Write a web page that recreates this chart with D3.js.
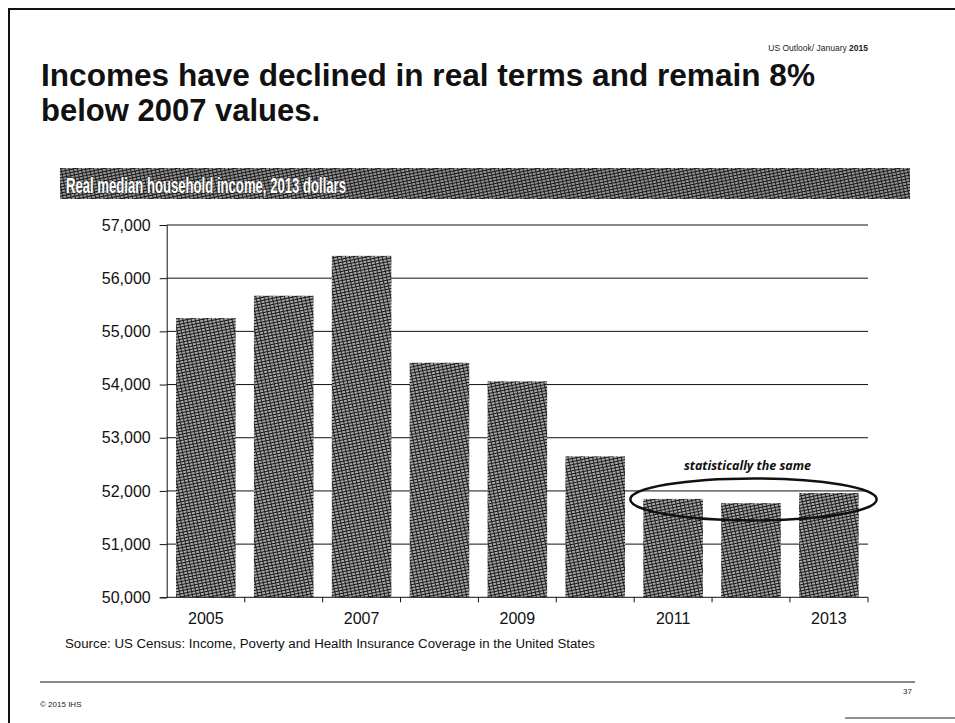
<!DOCTYPE html>
<html>
<head>
<meta charset="utf-8">
<script src="https://cdn.jsdelivr.net/npm/d3@7"></script>
<style>
  html, body { margin: 0; padding: 0; background: #fff; }
  svg { display: block; font-family: "Liberation Sans", Arial, sans-serif; }
</style>
</head>
<body>
<svg id="chart" width="955" height="723"></svg>
<script>
// Real median household income, 2013 dollars
const years = [2005, 2006, 2007, 2008, 2009, 2010, 2011, 2012, 2013];
const income = [55250, 55670, 56420, 54410, 54060, 52650, 51850, 51770, 51960];
const yTicks = [50000, 51000, 52000, 53000, 54000, 55000, 56000, 57000];
const labelledYears = [2005, 2007, 2009, 2011, 2013];
const sameYears = [2011, 2012, 2013];

const svg = d3.select("#chart");

// hatched fill used for bars and the chart banner
const defs = svg.append("defs");
function hatch(id, bg) {
  const p = defs.append("pattern")
    .attr("id", id)
    .attr("patternUnits", "userSpaceOnUse")
    .attr("width", 4).attr("height", 3)
    .attr("patternTransform", "rotate(-12)");
  p.append("rect").attr("width", 4).attr("height", 3).attr("fill", bg);
  p.append("rect").attr("width", 4).attr("height", 1).attr("fill", "#111");
  p.append("rect").attr("width", 1).attr("height", 3).attr("fill", "#222");
}
hatch("hatch", "#a8a8a8");
hatch("hatchDark", "#959595");

// page frame
svg.append("line").attr("x1", 8).attr("x2", 955).attr("y1", 9).attr("y2", 9)
  .attr("stroke", "#111").attr("stroke-width", 2);
svg.append("line").attr("x1", 9).attr("x2", 9).attr("y1", 8).attr("y2", 723)
  .attr("stroke", "#111").attr("stroke-width", 2);
svg.append("line").attr("x1", 845).attr("x2", 955).attr("y1", 718).attr("y2", 718)
  .attr("stroke", "#222").attr("stroke-width", 1);

// header
const hdr = svg.append("text").attr("x", 868).attr("y", 51)
  .attr("text-anchor", "end").attr("font-size", 8.5).attr("fill", "#222");
hdr.append("tspan").text("US Outlook/ January ");
hdr.append("tspan").attr("font-weight", "bold").text("2015");

svg.append("text").attr("x", 41).attr("y", 86)
  .attr("font-size", 31).attr("font-weight", "bold").attr("fill", "#111")
  .attr("textLength", 774).attr("lengthAdjust", "spacingAndGlyphs")
  .text("Incomes have declined in real terms and remain 8%");
svg.append("text").attr("x", 41).attr("y", 121)
  .attr("font-size", 31).attr("font-weight", "bold").attr("fill", "#111")
  .text("below 2007 values.");

// chart banner
svg.append("rect").attr("x", 60).attr("y", 168).attr("width", 850).attr("height", 31)
  .attr("fill", "url(#hatchDark)");
svg.append("text").attr("x", 66).attr("y", 193)
  .attr("font-family", "Liberation Sans Narrow, Arial Narrow, Liberation Sans, sans-serif")
  .attr("font-size", 22).attr("font-weight", "bold").attr("fill", "#fff")
  .attr("stroke", "#222").attr("stroke-width", 0.9).attr("paint-order", "stroke")
  .attr("textLength", 280).attr("lengthAdjust", "spacingAndGlyphs")
  .text("Real median household income, 2013 dollars");

// scales
const x = d3.scaleBand().domain(years).range([166.7, 868])
  .paddingInner(0.235).paddingOuter(0.12);
const y = d3.scaleLinear().domain([50000, 57000]).range([597.3, 225]);

// gridlines
svg.append("g").selectAll("line").data(yTicks.slice(1)).join("line")
  .attr("x1", 166.7).attr("x2", 868)
  .attr("y1", d => y(d)).attr("y2", d => y(d))
  .attr("stroke", "#111").attr("stroke-width", 1);

// bars
svg.append("g").selectAll("rect").data(years).join("rect")
  .attr("x", d => x(d))
  .attr("width", x.bandwidth())
  .attr("y", (d, i) => y(income[i]))
  .attr("height", (d, i) => y(50000) - y(income[i]))
  .attr("fill", "url(#hatch)");

// y axis
const yAxis = svg.append("g").attr("transform", "translate(166.7,0)")
  .call(d3.axisLeft(y).tickValues(yTicks).tickFormat(d3.format(",")).tickSize(7).tickPadding(9));
yAxis.select(".domain").attr("stroke", "#111");
yAxis.selectAll(".tick line").attr("stroke", "#111");
yAxis.selectAll("text").attr("font-size", 16).attr("fill", "#111")
  .attr("font-family", "Liberation Sans, Arial, sans-serif");

// x axis: ticks on band boundaries, labels on alternate years
const xg = svg.append("g").attr("transform", `translate(0,${y(50000)})`);
xg.append("line").attr("x1", 166.7).attr("x2", 868).attr("stroke", "#111");
const bounds = years.map(d => x(d) - x.step() * x.paddingInner() / 2).slice(1).concat([868]);
xg.selectAll("line.tk").data(bounds).join("line").attr("class", "tk")
  .attr("x1", d => d).attr("x2", d => d).attr("y1", 0).attr("y2", 5)
  .attr("stroke", "#111");
xg.selectAll("text").data(labelledYears).join("text")
  .attr("x", d => x(d) + x.bandwidth() / 2)
  .attr("y", 27)
  .attr("text-anchor", "middle")
  .attr("font-size", 16).attr("fill", "#111")
  .text(d => d);

// "statistically the same" annotation
const left = x(sameYears[0]), right = x(sameYears[2]) + x.bandwidth();
const cx = (left + right) / 2 + 2.5;
const cy = y(d3.mean(sameYears, d => income[years.indexOf(d)]) - 20);
svg.append("ellipse")
  .attr("cx", cx).attr("cy", cy)
  .attr("rx", (right - left) / 2 + 15.5).attr("ry", 21)
  .attr("fill", "none").attr("stroke", "#111").attr("stroke-width", 2.5);
svg.append("text").attr("x", cx - 6).attr("y", 470)
  .attr("text-anchor", "middle")
  .attr("font-family", "Open Sans, sans-serif")
  .attr("font-size", 12.5).attr("font-weight", "bold").attr("font-style", "italic")
  .attr("fill", "#111")
  .text("statistically the same");

// source and footer
svg.append("text").attr("x", 65).attr("y", 648)
  .attr("font-size", 12).attr("fill", "#111")
  .attr("textLength", 530).attr("lengthAdjust", "spacingAndGlyphs")
  .text("Source: US Census: Income, Poverty and Health Insurance Coverage in the United States");
svg.append("line").attr("x1", 40).attr("x2", 915).attr("y1", 682).attr("y2", 682)
  .attr("stroke", "#111").attr("stroke-width", 1);
svg.append("text").attr("x", 40).attr("y", 707)
  .attr("font-size", 8).attr("fill", "#222").text("© 2015 IHS");
svg.append("text").attr("x", 912).attr("y", 694)
  .attr("text-anchor", "end").attr("font-size", 8).attr("fill", "#222").text("37");
</script>
</body>
</html>
